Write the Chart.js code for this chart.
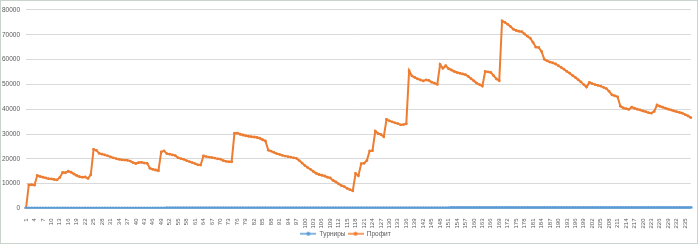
<!DOCTYPE html>
<html>
<head>
<meta charset="utf-8">
<script src="https://cdn.jsdelivr.net/npm/chart.js@4.4.1/dist/chart.umd.min.js"></script>
<style>
  html, body { margin: 0; padding: 0; background: #fff; }
  #wrap { width: 700px; height: 246px; position: relative; }
</style>
</head>
<body>
<div id="wrap"><canvas id="myLineChart" width="700" height="246"></canvas></div>
<script>
// Номера турниров (категории оси X)
const categories = [
  1, 2, 3, 4, 5, 6, 7, 8, 9, 10, 11, 12, 13, 14, 15, 16, 17, 18, 19, 20,
  21, 22, 23, 24, 25, 26, 27, 28, 29, 30, 31, 32, 33, 34, 35, 36, 37, 38, 39, 40,
  41, 42, 43, 44, 45, 46, 47, 48, 49, 50, 51, 52, 53, 54, 55, 56, 57, 58, 59, 60,
  61, 62, 63, 64, 65, 66, 67, 68, 69, 70, 71, 72, 73, 74, 75, 76, 77, 78, 79, 80,
  81, 82, 83, 84, 85, 86, 87, 88, 89, 90, 91, 92, 93, 94, 95, 96, 97, 98, 99, 100,
  101, 102, 103, 104, 105, 106, 107, 108, 109, 110, 111, 112, 113, 114, 115, 116, 117, 118, 119, 120,
  121, 122, 123, 124, 125, 126, 127, 128, 129, 130, 131, 132, 133, 134, 135, 136, 137, 138, 139, 140,
  141, 142, 143, 144, 145, 146, 147, 148, 149, 150, 151, 152, 153, 154, 155, 156, 157, 158, 159, 160,
  161, 162, 163, 164, 165, 166, 167, 168, 169, 170, 171, 172, 173, 174, 175, 176, 177, 178, 179, 180,
  181, 182, 183, 184, 185, 186, 187, 188, 189, 190, 191, 192, 193, 194, 195, 196, 197, 198, 199, 200,
  201, 202, 203, 204, 205, 206, 207, 208, 209, 210, 211, 212, 213, 214, 215, 216, 217, 218, 219, 220,
  221, 222, 223, 224, 225, 226, 227, 228, 229, 230, 231, 232, 233, 234, 235, 236, 237
];

// Серия "Турниры"
const turniry = [
  1, 2, 3, 4, 5, 6, 7, 8, 9, 10, 11, 12, 13, 14, 15, 16, 17, 18, 19, 20,
  21, 22, 23, 24, 25, 26, 27, 28, 29, 30, 31, 32, 33, 34, 35, 36, 37, 38, 39, 40,
  41, 42, 43, 44, 45, 46, 47, 48, 49, 50, 51, 52, 53, 54, 55, 56, 57, 58, 59, 60,
  61, 62, 63, 64, 65, 66, 67, 68, 69, 70, 71, 72, 73, 74, 75, 76, 77, 78, 79, 80,
  81, 82, 83, 84, 85, 86, 87, 88, 89, 90, 91, 92, 93, 94, 95, 96, 97, 98, 99, 100,
  101, 102, 103, 104, 105, 106, 107, 108, 109, 110, 111, 112, 113, 114, 115, 116, 117, 118, 119, 120,
  121, 122, 123, 124, 125, 126, 127, 128, 129, 130, 131, 132, 133, 134, 135, 136, 137, 138, 139, 140,
  141, 142, 143, 144, 145, 146, 147, 148, 149, 150, 151, 152, 153, 154, 155, 156, 157, 158, 159, 160,
  161, 162, 163, 164, 165, 166, 167, 168, 169, 170, 171, 172, 173, 174, 175, 176, 177, 178, 179, 180,
  181, 182, 183, 184, 185, 186, 187, 188, 189, 190, 191, 192, 193, 194, 195, 196, 197, 198, 199, 200,
  201, 202, 203, 204, 205, 206, 207, 208, 209, 210, 211, 212, 213, 214, 215, 216, 217, 218, 219, 220,
  221, 222, 223, 224, 225, 226, 227, 228, 229, 230, 231, 232, 233, 234, 235, 236, 237
];

// Серия "Профит"
const profit = [
  0, 9500, 9600, 9400, 13300, 12900, 12600, 12300, 12000, 11900,
  11700, 11500, 12500, 14500, 14400, 15000, 14600, 13900, 13300, 12800,
  12600, 12700, 12100, 13600, 23800, 23400, 22200, 21900, 21600, 21200,
  20800, 20400, 20100, 19800, 19600, 19500, 19400, 19100, 18500, 18100,
  18500, 18600, 18300, 18200, 16200, 15800, 15500, 15200, 22800, 23200,
  22100, 21900, 21600, 21300, 20400, 20100, 19800, 19300, 18900, 18500,
  18100, 17600, 17500, 21200, 20900, 20700, 20500, 20300, 20000, 19900,
  19300, 19000, 18800, 18800, 30300, 30400, 29900, 29600, 29300, 29100,
  28900, 28800, 28600, 28300, 27700, 27200, 23500, 23100, 22600, 22100,
  21800, 21400, 21100, 20900, 20700, 20400, 20200, 19300, 18300, 17300,
  16500, 15800, 14900, 14200, 13700, 13400, 13100, 12600, 12300, 11300,
  10700, 9900, 9200, 8800, 8100, 7600, 7100, 14100, 13200, 18100,
  18200, 19300, 23200, 23300, 31200, 30200, 29800, 28900, 35900, 35300,
  34900, 34500, 34200, 33700, 33800, 34100, 55500, 53400, 52800, 52200,
  51800, 51400, 51800, 51600, 50900, 50500, 50000, 58000, 56500, 57500,
  56300, 55800, 55200, 54800, 54500, 54200, 53900, 53200, 52300, 51400,
  50500, 49900, 49300, 55200, 55000, 54800, 53500, 52200, 51500, 75600,
  75000, 74200, 73300, 72200, 71700, 71400, 71200, 70300, 69400, 68600,
  66900, 65000, 64900, 63300, 60100, 59500, 59000, 58700, 58200, 57500,
  56800, 56100, 55200, 54500, 53600, 52800, 51900, 51000, 49900, 48900,
  50800, 50300, 49900, 49600, 49300, 48800, 48300, 47200, 45800, 45400,
  45000, 41200, 40500, 40200, 39900, 40800, 40400, 40000, 39700, 39300,
  39000, 38600, 38400, 39100, 41700, 41200, 40800, 40400, 40000, 39700,
  39300, 39000, 38700, 38400, 37800, 37300, 36600
];

// Деления оси Y
const yTicks = [0, 10000, 20000, 30000, 40000, 50000, 60000, 70000, 80000];

const blue = '#5B9BD5';
const orange = '#ED7D31';
const textGray = '#595959';

// Значок легенды: линия с маркером посередине
function legendMark(color) {
  const c = document.createElement('canvas');
  c.width = 16;
  c.height = 6;
  const g = c.getContext('2d');
  g.strokeStyle = color;
  g.lineWidth = 1.5;
  g.beginPath();
  g.moveTo(0, 3);
  g.lineTo(16, 3);
  g.stroke();
  g.fillStyle = color;
  g.beginPath();
  g.arc(8, 3, 2, 0, Math.PI * 2);
  g.fill();
  return c;
}
const marks = [legendMark(blue), legendMark(orange)];

// Рамка диаграммы + легенда чуть выше
const frame = {
  id: 'frame',
  afterLayout(chart) {
    chart.legend.top -= 2;
    chart.legend.bottom -= 2;
  },
  afterDraw(chart) {
    const ctx = chart.ctx;
    ctx.save();
    ctx.strokeStyle = '#c9d5cc';
    ctx.lineWidth = 1;
    ctx.strokeRect(0.5, 0.5, 697, 243);
    ctx.restore();
  }
};

const ctxLine = document.getElementById('myLineChart').getContext('2d');
new Chart(ctxLine, {
  type: 'line',
  data: {
    labels: categories,
    datasets: [{
      label: 'Турниры',
      data: turniry,
      borderColor: blue,
      backgroundColor: blue,
      borderWidth: 2.5,
      pointRadius: 2,
      pointBorderWidth: 0,
      tension: 0
    }, {
      label: 'Профит',
      data: profit,
      borderColor: orange,
      backgroundColor: orange,
      borderWidth: 2,
      pointRadius: 1.4,
      pointBorderWidth: 0,
      tension: 0
    }]
  },
  options: {
    responsive: false,
    animation: false,
    devicePixelRatio: 1,
    layout: { padding: { left: 0, right: 9, top: 8, bottom: -3 } },
    scales: {
      x: {
        offset: false,
        grid: { display: false },
        border: { display: true, color: '#d9d9d9' },
        ticks: {
          autoSkip: false,
          maxRotation: 90,
          minRotation: 90,
          padding: 2,
          color: textGray,
          font: { family: 'Liberation Sans', size: 6 },
          callback: function(value, index) {
            return index % 3 === 0 ? this.getLabelForValue(value) : '';
          }
        },
        afterFit: function(scale) { scale.height = 22; }
      },
      y: {
        min: 0,
        max: 80000,
        grid: { color: '#d9d9d9', lineWidth: 1, drawTicks: false },
        border: { display: false },
        ticks: {
          padding: 6,
          color: textGray,
          font: { family: 'Liberation Sans', size: 6.5 },
          callback: function(value) { return String(value); }
        },
        afterBuildTicks: function(scale) {
          scale.ticks = yTicks.map(v => ({ value: v }));
        },
        afterFit: function(scale) { scale.width = 26; }
      }
    },
    plugins: {
      tooltip: { enabled: false },
      legend: {
        position: 'bottom',
        labels: {
          usePointStyle: true,
          pointStyleWidth: 16,
          padding: 2,
          color: textGray,
          font: { family: 'Liberation Sans', size: 6.5 },
          generateLabels: function(chart) {
            const items = Chart.defaults.plugins.legend.labels.generateLabels(chart);
            items.forEach((it, i) => { it.pointStyle = marks[i]; });
            return items;
          }
        }
      }
    }
  },
  plugins: [frame]
});
</script>
</body>
</html>
